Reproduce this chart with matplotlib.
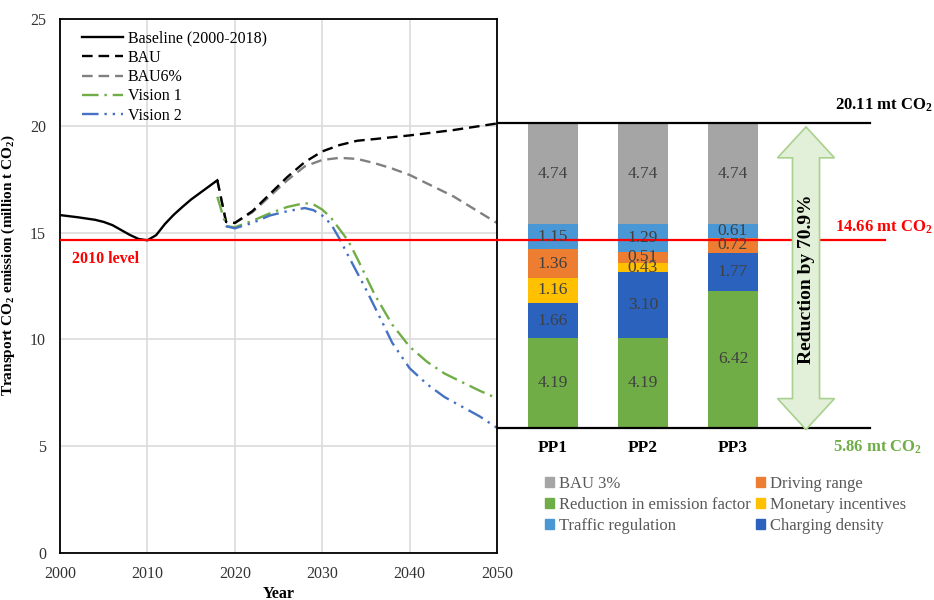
import matplotlib
matplotlib.use('Agg')
import matplotlib.pyplot as plt
from matplotlib.patches import Polygon, Patch

plt.rcParams['font.family'] = 'Liberation Serif'
plt.rcParams['font.size'] = 11
plt.rcParams['mathtext.fontset'] = 'custom'
plt.rcParams['mathtext.default'] = 'regular'

# ---- line data (million t CO2) ----
base_years = [2000, 2002, 2004, 2005, 2006, 2007, 2008, 2009, 2010, 2011, 2012, 2013, 2014,
              2015, 2016, 2017, 2018]
base_vals = [15.82, 15.72, 15.6, 15.5, 15.35, 15.12, 14.89, 14.7, 14.64, 14.88, 15.4, 15.83, 16.2,
             16.55, 16.85, 17.15, 17.45]

bau_years = [2018, 2019, 2020, 2022, 2024, 2026, 2028, 2030, 2032, 2034, 2036, 2040, 2045, 2050]
bau_vals = [17.45, 15.5, 15.45, 16.0, 16.8, 17.6, 18.3, 18.8, 19.1, 19.3, 19.38, 19.55, 19.8, 20.11]

bau6_years = [2018, 2019, 2020, 2022, 2024, 2026, 2028, 2030, 2032, 2034, 2036, 2038, 2040, 2042, 2045, 2048, 2050]
bau6_vals = [17.45, 15.5, 15.45, 15.95, 16.7, 17.45, 18.1, 18.4, 18.5, 18.45, 18.25, 18.0, 17.7, 17.3, 16.7, 15.95, 15.45]

v1_years = [2018, 2019, 2020, 2022, 2024, 2026, 2028, 2029, 2030, 2031, 2032, 2033, 2034, 2036,
            2038, 2040, 2042, 2044, 2046, 2048, 2050]
v1_vals = [16.68, 15.3, 15.25, 15.55, 15.9, 16.2, 16.38, 16.32, 16.08, 15.7, 15.15, 14.6, 13.8, 12.1,
           10.7, 9.66, 8.95, 8.4, 8.0, 7.6, 7.24]

v2_years = [2019, 2020, 2022, 2024, 2026, 2028, 2029, 2030, 2031, 2032, 2033, 2035, 2037, 2038,
            2040, 2042, 2044, 2046, 2048, 2050]
v2_vals = [15.3, 15.2, 15.45, 15.8, 16.0, 16.15, 16.05, 15.8, 15.4, 14.7, 13.9, 12.35, 10.7, 9.85,
           8.65, 7.9, 7.3, 6.85, 6.4, 5.86]

level_2010 = 14.66
bau_2050 = 20.11
best_2050 = 5.86

# ---- stacked bars (bottom to top) ----
pathways = ['PP1', 'PP2', 'PP3']
emission_factor = [4.19, 4.19, 6.42]
charging = [1.66, 3.10, 1.77]
monetary = [1.16, 0.43, 0.0]
driving = [1.36, 0.51, 0.72]
traffic = [1.15, 1.29, 0.61]
bau3 = [4.74, 4.74, 4.74]

fig = plt.figure(figsize=(9.34, 6.0), dpi=100)
ax = fig.add_axes([60 / 934, 47 / 600, 437 / 934, 534 / 600])

ax.plot(bau6_years, bau6_vals, color='#808080', lw=1.7, dashes=(4.5, 2.5), label='BAU6%')
ax.plot(bau_years, bau_vals, color='black', lw=1.7, dashes=(4.5, 2.5), label='BAU')
ax.plot(v1_years, v1_vals, color='#70ad47', lw=1.7, dashes=(7, 2.5, 1, 2.5), label='Vision 1')
ax.plot(v2_years, v2_vals, color='#4472c4', lw=1.7, dashes=(7, 2.5, 1, 2.5, 1, 2.5), label='Vision 2')
ax.plot(base_years, base_vals, color='black', lw=1.7, label='Baseline (2000-2018)')
ax.axhline(level_2010, color='red', lw=1.6, zorder=3)
ax.text(2001.4, 13.76, '2010 level', color='red', fontweight='bold', fontsize=11.5, va='center')

ax.set_xlim(2000, 2050)
ax.set_ylim(0, 25)
ax.set_xticks(range(2000, 2051, 10))
ax.set_yticks(range(0, 26, 5))
ax.grid(color='#dcdcdc', lw=1.2)
ax.set_axisbelow(True)
ax.tick_params(length=0, labelsize=11.5, colors='#333333')
ax.tick_params(axis='y', pad=10)
ax.tick_params(axis='x', pad=9)
for s in ax.spines.values():
    s.set_linewidth(1.3)

ax.set_ylabel('Transport CO$_2$ emission (million t CO$_2$)', fontweight='bold', fontsize=11)
ax.yaxis.set_label_coords(-0.098, 0.539)
ax.set_xlabel('Year', fontweight='bold', fontsize=11.5)
ax.xaxis.set_label_coords(0.5, -0.062)

h, l = ax.get_legend_handles_labels()
order = [4, 1, 0, 2, 3]
ax.legend([h[i] for i in order], [l[i] for i in order], loc='upper left',
          bbox_to_anchor=(0.035, 0.99), frameon=False, fontsize=11.5,
          handlelength=2.6, handletextpad=0.3, labelspacing=0.2, borderaxespad=0)

# ---- bar panel ----
ax2 = fig.add_axes([497 / 934, 47 / 600, 437 / 934, 534 / 600])
ax2.set_ylim(0, 25)
ax2.set_xlim(-0.618, 4.23)
ax2.axis('off')
ax2.patch.set_alpha(0)

xs = range(len(pathways))
segments = [
    (emission_factor, '#70ad47', 'Reduction in emission factor'),
    (charging, '#2a62bd', 'Charging density'),
    (monetary, '#ffc000', 'Monetary incentives'),
    (driving, '#ed7d31', 'Driving range'),
    (traffic, '#4a97d6', 'Traffic regulation'),
    (bau3, '#a5a5a5', 'BAU 3%'),
]
bottom = [best_2050] * 3
for vals, col, name in segments:
    ax2.bar(xs, vals, bottom=bottom, width=0.555, color=col, zorder=2)
    for i, v in enumerate(vals):
        if v > 0:
            ax2.text(i, bottom[i] + v / 2, f'{v:.2f}', ha='center', va='center',
                     fontsize=12.5, color='#404040', zorder=4)
    bottom = [b + v for b, v in zip(bottom, vals)]

ax2.plot([-0.618, 3.52], [bau_2050, bau_2050], color='black', lw=1.6, zorder=3)
ax2.plot([-0.618, 3.52], [best_2050, best_2050], color='black', lw=1.6, zorder=3)
ax2.plot([-0.618, 3.686], [level_2010, level_2010], color='red', lw=1.6, zorder=3)

for i, p in enumerate(pathways):
    ax2.text(i, 4.92, p, ha='center', va='center', fontweight='bold', fontsize=12.5)

ax2.text(3.13, 20.97, '20.11 mt CO$_2$', fontweight='bold', fontsize=12, va='center')
ax2.text(3.13, 15.26, '14.66 mt CO$_2$', fontweight='bold', fontsize=12, va='center', color='red')
ax2.text(3.11, 4.96, '5.86 mt CO$_2$', fontweight='bold', fontsize=12, va='center', color='#70ad47')

# double arrow
cx, sw, hw, hl = 2.81, 0.15, 0.316, 1.45
top, bot = 19.95, 5.78
arrow = Polygon([(cx, top), (cx + hw, top - hl), (cx + sw, top - hl), (cx + sw, bot + hl),
                 (cx + hw, bot + hl), (cx, bot), (cx - hw, bot + hl), (cx - sw, bot + hl),
                 (cx - sw, top - hl), (cx - hw, top - hl)], closed=True,
                facecolor='#e2f0d9', edgecolor='#a9d18e', lw=1.2, zorder=5)
ax2.add_patch(arrow)
ax2.text(cx, 12.83, 'Reduction by 70.9%', rotation=90, ha='center', va='center',
         fontweight='bold', fontsize=14, zorder=6)

leg_order = [5, 0, 4, 3, 2, 1]
handles = [Patch(color=segments[i][1]) for i in leg_order]
labels = [segments[i][2] for i in leg_order]
ax2.legend(handles, labels, ncol=2, loc='upper left', bbox_to_anchor=(545 / 934, 1 - 476 / 600),
           bbox_transform=fig.transFigure, frameon=False, fontsize=12, labelcolor='#595959',
           handlelength=0.55, handleheight=0.55, handletextpad=0.3, labelspacing=0.3,
           columnspacing=0.3, borderaxespad=0, borderpad=0)

fig.savefig('out.png', dpi=100)
